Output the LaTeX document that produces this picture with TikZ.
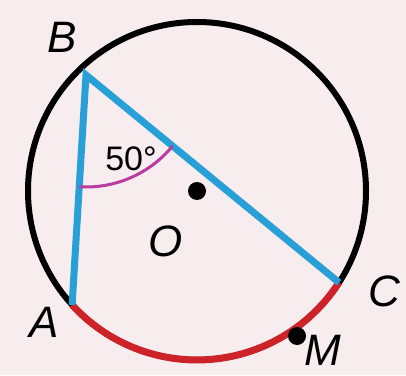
\documentclass[tikz,border=0pt]{standalone}
\usepackage{fontspec}
\setmainfont{Liberation Sans}
\usetikzlibrary{angles}
\definecolor{bg}{RGB}{247,236,238}
\definecolor{segblue}{RGB}{40,160,215}
\definecolor{arcred}{RGB}{205,35,40}
\definecolor{anglemag}{RGB}{185,60,160}
\tikzset{
  lbl/.style={font=\fontsize{44}{44}\selectfont\itshape, inner sep=0pt},
  dot/.style={circle, fill=black, minimum size=18pt, inner sep=0pt},
}
\begin{document}
\begin{tikzpicture}[x=1pt,y=1pt]
\fill[bg] (0,0) rectangle (406,375);
\useasboundingbox (0,0) rectangle (406,375);
\coordinate (O) at (197,184);
\coordinate (A) at (72.1,70.1);
\coordinate (B) at (86,300);
\coordinate (C) at (339.1,92.4);
\draw[line width=6pt] (O) circle[radius=169];
\draw[arcred, line width=7pt] (A) arc[start angle=222.4, end angle=327.2, radius=169];
\draw[segblue, line width=7pt, line join=miter] (A) -- (B) -- (C);
\pic[draw=anglemag, line width=3pt, angle radius=112pt] {angle = A--B--C};
\node[inner sep=0pt, font=\fontsize{34}{34}\selectfont] (ang) at (131,216) {50°};
\node[dot] (Odot) at (O) {};
\node[dot] (Mdot) at (297,39) {};
\node[lbl] (Bl) at (62,338) {B};
\node[lbl] (Al) at (44,53) {A};
\node[lbl] (Cl) at (384,84) {C};
\node[lbl] (Ml) at (323,25) {M};
\node[lbl] (Ol) at (166,134) {O};
\end{tikzpicture}
\end{document}
